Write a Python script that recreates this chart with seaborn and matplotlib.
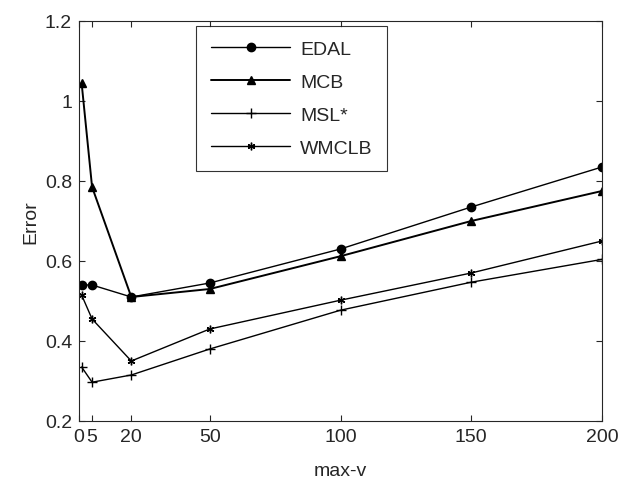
import seaborn as sns
import matplotlib.pyplot as plt
import pandas as pd

max_v = [1, 5, 20, 50, 100, 150, 200]
edal = [0.54, 0.54, 0.51, 0.545, 0.630, 0.735, 0.835]
mcb = [1.045, 0.785, 0.51, 0.53, 0.612, 0.700, 0.775]
msl = [0.335, 0.297, 0.315, 0.380, 0.477, 0.547, 0.604]
wmclb = [0.515, 0.455, 0.350, 0.430, 0.502, 0.570, 0.650]

sns.set_style("ticks")
plt.rcParams['font.family'] = ['Liberation Sans', 'DejaVu Sans']
plt.rcParams['xtick.direction'] = 'in'
plt.rcParams['ytick.direction'] = 'in'

fig = plt.figure(figsize=(6.27, 4.81), dpi=100)
ax = fig.add_axes([79 / 627, 59 / 481, 523 / 627, 400 / 481])

series = [("EDAL", edal, "o", 6, 1.0),
          ("MCB", mcb, "^", 6, 1.4),
          ("MSL*", msl, "+", 7, 1.0),
          ("WMCLB", wmclb, (6, 2, 0), 5.5, 1.0)]
for name, vals, mk, ms, lw in series:
    df = pd.DataFrame({"max-v": max_v, "Error": vals})
    sns.lineplot(data=df, x="max-v", y="Error", ax=ax, color="black",
                 marker=mk, markersize=ms, linewidth=lw, label=name,
                 markeredgecolor="black", markerfacecolor="black",
                 markeredgewidth=1.0)

ax.set_xlim(0, 200)
ax.set_ylim(0.2, 1.2)
ax.set_xticks([0, 5, 20, 50, 100, 150, 200])
ax.set_xticklabels(["0", "5", "20", "50", "100", "150", "200"])
ax.set_yticks([0.2, 0.4, 0.6, 0.8, 1.0, 1.2])
ax.set_yticklabels(["0.2", "0.4", "0.6", "0.8", "1", "1.2"])
ax.tick_params(labelsize=14, top=True, right=True, length=4, width=0.8, pad=5)
ax.set_xlabel("max-v", fontsize=14, labelpad=12)
ax.set_ylabel("Error", fontsize=14, labelpad=4)
for s in ax.spines.values():
    s.set_linewidth(0.8)

leg = ax.legend(loc="upper left", bbox_to_anchor=(0.224, 0.988), fontsize=14,
                frameon=True, fancybox=False, edgecolor="black",
                handlelength=4.1, labelspacing=0.79, borderpad=0.75,
                handletextpad=0.5, borderaxespad=0)
leg.get_frame().set_linewidth(0.8)

fig.savefig("out.png", dpi=100)
